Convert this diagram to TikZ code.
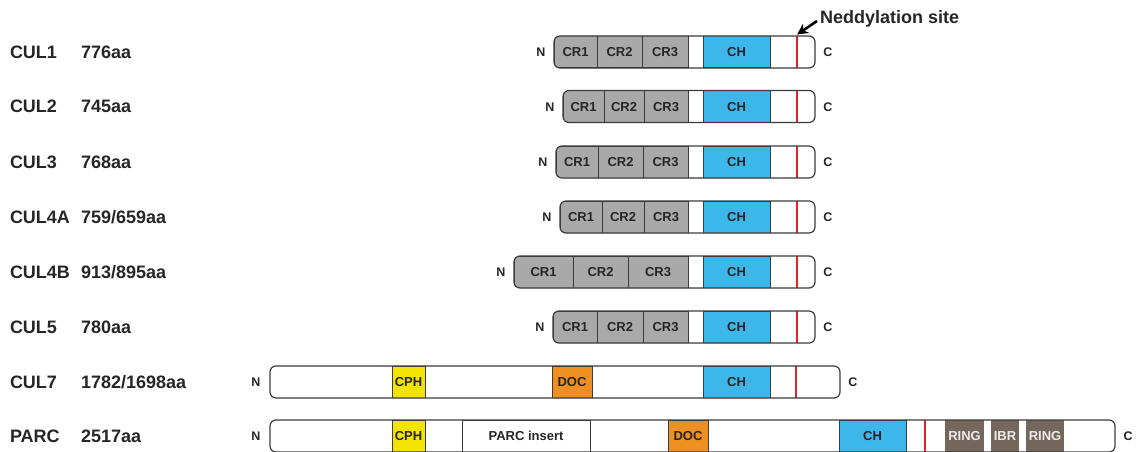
\documentclass[tikz,border=0pt]{standalone}
\usepackage{fontspec}
\setmainfont{Liberation Sans}
\usetikzlibrary{arrows.meta}
\definecolor{crgray}{HTML}{A9A9A9}
\definecolor{chblue}{HTML}{3DB7E9}
\definecolor{cphyel}{HTML}{F2E400}
\definecolor{docorg}{HTML}{EF8E21}
\definecolor{ringbr}{HTML}{75675B}
\definecolor{nedred}{HTML}{E3242B}
\definecolor{outl}{HTML}{3C3C3C}
\definecolor{txt}{HTML}{262626}
\tikzset{
  rowlabel/.style={anchor=west,inner sep=0pt,outer sep=0pt,text height=12.9pt,text depth=0pt,text=txt,font=\fontsize{18}{20}\selectfont\bfseries},
  termlabel/.style={inner sep=0pt,outer sep=0pt,text height=9pt,text depth=0pt,text=txt,font=\fontsize{12.5}{14}\selectfont\bfseries},
  protbox/.style={rectangle,fill=white,inner sep=0pt,outer sep=0pt,minimum height=32pt},
  protline/.style={draw=outl,line width=1.2pt,rounded corners=6pt},
  dombase/.style={rectangle,draw=outl,line width=1pt,inner sep=0pt,outer sep=0pt,minimum height=32pt,text height=9.3pt,text depth=0pt,text=txt,font=\fontsize{13}{15}\selectfont\bfseries},
  crdom/.style={fill=crgray},
  chdom/.style={fill=chblue},
  cphdom/.style={fill=cphyel},
  docdom/.style={fill=docorg},
  plaindom/.style={fill=white},
  ringdom/.style={fill=ringbr,draw=none,text=white!92!black},
  nedmark/.style={rectangle,fill=nedred,inner sep=0pt,outer sep=0pt,minimum width=2pt,minimum height=32pt},
  nedarrow/.style={-{Stealth[length=11pt,width=11pt]},line width=2.6pt,black},
}
\newcommand\dombox[6]{%
  \node[dombase,#5,minimum width={(#3-#2)*1pt}] (#1) at ({(#2+#3)/2},#4) {#6};}
\newcommand\culrow[7]{%
  \node[rowlabel] (#1name) at (10,#4) {#2};
  \node[rowlabel] (#1len) at (81,#4) {#3};
  \node[protbox,minimum width={(815-#5)*1pt}] (#1) at ({(815+#5)/2},#4) {};
  \node[termlabel] (#1n) at ({#5-13},#4) {N};
  \node[termlabel] (#1c) at (828,#4) {C};
  \begin{scope}
    \clip[rounded corners=6pt] (#1.south west) rectangle (#1.north east);
    \dombox{#1cra}{#5}{#6}{#4}{crdom}{CR1}
    \dombox{#1crb}{#6}{#7}{#4}{crdom}{CR2}
    \dombox{#1crc}{#7}{688}{#4}{crdom}{CR3}
    \dombox{#1ch}{703}{770}{#4}{chdom}{CH}
    \node[nedmark] (#1ned) at (797,#4) {};
  \end{scope}
  \draw[protline] (#1.south west) rectangle (#1.north east);
}
\begin{document}
\begin{tikzpicture}[x=1pt,y=-1pt]
\useasboundingbox[fill=white] (0,0) rectangle (1137,452);

\culrow{culA}{CUL1}{776aa}{52}{554}{597}{642}
\culrow{culB}{CUL2}{745aa}{106.5}{563}{604}{644}
\culrow{culC}{CUL3}{768aa}{162}{556}{598}{643}
\culrow{culD}{CUL4A}{759/659aa}{217}{560}{602}{644}
\culrow{culE}{CUL4B}{913/895aa}{272}{514}{573}{628}
\culrow{culF}{CUL5}{780aa}{327}{553}{597}{643}

% CUL7
\node[rowlabel] (culGname) at (10,382) {CUL7};
\node[rowlabel] (culGlen) at (81,382) {1782/1698aa};
\node[protbox,minimum width=570pt] (culG) at (555,382) {};
\node[termlabel] (culGn) at (256,382) {N};
\node[termlabel] (culGc) at (853,382) {C};
\begin{scope}
  \clip[rounded corners=6pt] (culG.south west) rectangle (culG.north east);
  \dombox{culGcph}{392}{425}{382}{cphdom}{CPH}
  \dombox{culGdoc}{552}{592}{382}{docdom}{DOC}
  \dombox{culGch}{703}{770}{382}{chdom}{CH}
  \node[nedmark] (culGned) at (796,382) {};
\end{scope}
\draw[protline] (culG.south west) rectangle (culG.north east);

% PARC
\node[rowlabel] (parcname) at (10,436) {PARC};
\node[rowlabel] (parclen) at (81,436) {2517aa};
\node[protbox,minimum width=845pt] (parc) at (692.5,436) {};
\node[termlabel] (parcn) at (256,436) {N};
\node[termlabel] (parcc) at (1128,436) {C};
\begin{scope}
  \clip[rounded corners=6pt] (parc.south west) rectangle (parc.north east);
  \dombox{parccph}{392}{425}{436}{cphdom}{CPH}
  \dombox{parcins}{462}{590}{436}{plaindom}{PARC insert}
  \dombox{parcdoc}{668}{708}{436}{docdom}{DOC}
  \dombox{parcch}{839}{906}{436}{chdom}{CH}
  \node[nedmark] (parcned) at (925,436) {};
  \dombox{parcringa}{945}{984}{436}{ringdom}{RING}
  \dombox{parcibr}{991}{1019}{436}{ringdom}{IBR}
  \dombox{parcringb}{1026}{1064}{436}{ringdom}{RING}
\end{scope}
\draw[protline] (parc.south west) rectangle (parc.north east);

% Neddylation site
\node[rowlabel] (ned) at (820,17) {Neddylation site};
\coordinate (nsite) at (797,34.5);
\draw[nedarrow] ([xshift=-3pt,yshift=-4pt]ned.west) -- (nsite);
\end{tikzpicture}
\end{document}
